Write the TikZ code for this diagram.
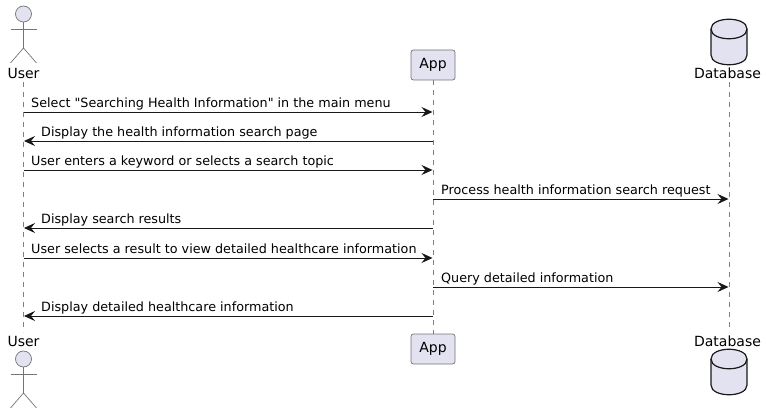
\documentclass[tikz,border=0pt]{standalone}
\usepackage{fontspec}
\newfontfamily\seqfont{DejaVu Sans}
\usetikzlibrary{arrows.meta,backgrounds}

\definecolor{partfill}{HTML}{E2E2F0}
\definecolor{partline}{HTML}{181818}
\definecolor{lifeline}{HTML}{808080}

\tikzset{
    lbl/.style={font=\seqfont\fontsize{14}{16}\selectfont, inner sep=0pt, text=black},
    msg/.style={font=\seqfont\fontsize{12.75}{15}\selectfont, inner sep=0pt, text=black, anchor=base west},
    arr/.style={draw=partline, line width=0.9pt, -{Stealth[length=11pt, width=10pt, inset=4pt]}, shorten >=0.5pt},
    life/.style={draw=lifeline, line width=0.6pt, dash pattern=on 5pt off 5pt},
    stick/.style={draw=partline!60, line width=0.7pt},
    partbox/.style={lbl, draw=partline!60, fill=partfill, line width=0.7pt, rounded corners=2.5pt,
        minimum width=44pt, minimum height=30pt},
    dbody/.style={draw=partline, fill=partfill, line width=1.2pt},
}

\begin{document}
\begin{tikzpicture}[x=1pt, y=-1pt]
    \useasboundingbox (0,0) rectangle (766,414);

    % participants, top row
    \node[lbl] (usertop) at (23.5,73) {User};
    \node[partbox] (apptop) at (433,65) {App};
    \node[lbl] (dbtop) at (727.5,73) {Database};

    % participants, bottom row
    \node[lbl] (userbot) at (23.5,341) {User};
    \node[partbox] (appbot) at (433,349) {App};
    \node[lbl] (dbbot) at (727.5,341) {Database};

    % free ends of the lifelines
    \coordinate (usera) at (23.5,82);  \coordinate (userb) at (23.5,332);
    \coordinate (dba) at (729,82);     \coordinate (dbb) at (729,332);

    % lifelines
    \begin{scope}[on background layer]
        \draw[life] (usera) -- (userb);
        \draw[life] (apptop) -- (appbot);
        \draw[life] (dba) -- (dbb);
    \end{scope}

    % actors
    \foreach \y in {14, 359} {
        \draw[stick, fill=partfill] (23.5,\y) circle (8);
        \draw[stick] (23.5,\y+8) -- (23.5,\y+34);
        \draw[stick] (10.5,\y+15) -- (36.5,\y+15);
        \draw[stick] (10.5,\y+49) -- (23.5,\y+34) -- (36.5,\y+49);
    }

    % databases
    \foreach \y in {19, 349} {
        \draw[dbody] (711,\y+10) .. controls (711,\y-3) and (747,\y-3) .. (747,\y+10)
            -- (747,\y+36) .. controls (747,\y+49) and (711,\y+49) .. (711,\y+36) -- cycle;
        \draw[dbody, fill=none] (711,\y+10) .. controls (711,\y+23) and (747,\y+23) .. (747,\y+10);
    }

    % messages
    \coordinate (u1) at (23.5,112); \coordinate (a1) at (433,112);
    \coordinate (u2) at (23.5,141); \coordinate (a2) at (433,141);
    \coordinate (u3) at (23.5,170); \coordinate (a3) at (433,170);
    \coordinate (a4) at (433,199);  \coordinate (d4) at (729,199);
    \coordinate (u5) at (23.5,228); \coordinate (a5) at (433,228);
    \coordinate (u6) at (23.5,258); \coordinate (a6) at (433,258);
    \coordinate (a7) at (433,287);  \coordinate (d7) at (729,287);
    \coordinate (u8) at (23.5,316); \coordinate (a8) at (433,316);

    \draw[arr] (u1) -- (a1);
    \draw[arr] (a2) -- (u2);
    \draw[arr] (u3) -- (a3);
    \draw[arr] (a4) -- (d4);
    \draw[arr] (a5) -- (u5);
    \draw[arr] (u6) -- (a6);
    \draw[arr] (a7) -- (d7);
    \draw[arr] (a8) -- (u8);

    \node[msg] (m1) at (31,108) {Select "Searching Health Information" in the main menu};
    \node[msg] (m2) at (41,137) {Display the health information search page};
    \node[msg] (m3) at (31,166) {User enters a keyword or selects a search topic};
    \node[msg] (m4) at (441,195) {Process health information search request};
    \node[msg] (m5) at (41,224) {Display search results};
    \node[msg] (m6) at (31,254) {User selects a result to view detailed healthcare information};
    \node[msg] (m7) at (441,283) {Query detailed information};
    \node[msg] (m8) at (41,312) {Display detailed healthcare information};
\end{tikzpicture}
\end{document}
